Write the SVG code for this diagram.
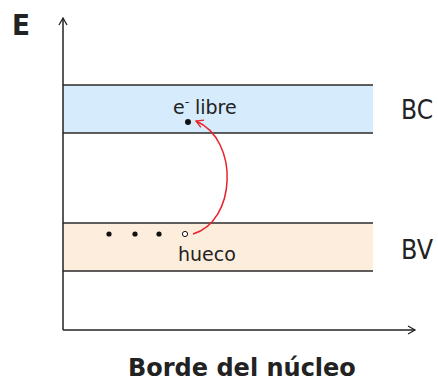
<svg xmlns="http://www.w3.org/2000/svg" width="438" height="382" viewBox="0 0 438 382">
<defs>
<style>
.band{stroke:#2a2a2a;stroke-width:1.6}
.lbl{font-family:"DejaVu Sans",sans-serif;fill:#222}
.side{font-size:27px}
.axis{stroke:#222;stroke-width:1.5;fill:none}
</style>
<marker id="ah" markerWidth="10" markerHeight="10" refX="8" refY="5" orient="auto" markerUnits="userSpaceOnUse"><path d="M1,1 L8,5 L1,9" fill="none" stroke="#222" stroke-width="1.3"/></marker>
<marker id="rh" markerWidth="10" markerHeight="10" refX="8" refY="5" orient="auto" markerUnits="userSpaceOnUse"><path d="M1,1 L8,5 L1,9" fill="none" stroke="#e8222a" stroke-width="1.3"/></marker>
</defs>
<rect width="438" height="382" fill="#fff"/>
<g id="bc">
<rect x="63" y="85" width="310" height="48" fill="#d6ebfb" stroke="none"/>
<line class="band" x1="63" y1="85" x2="373" y2="85"/>
<line class="band" x1="63" y1="133" x2="373" y2="133"/>
<text class="lbl side" x="401" y="119" textLength="32" lengthAdjust="spacingAndGlyphs">BC</text>
</g>
<g id="bv">
<rect x="63" y="223" width="310" height="48" fill="#fdeddd" stroke="none"/>
<line class="band" x1="63" y1="223" x2="373" y2="223"/>
<line class="band" x1="63" y1="271" x2="373" y2="271"/>
<text class="lbl side" x="401" y="259" textLength="32" lengthAdjust="spacingAndGlyphs">BV</text>
</g>
<g id="axes">
<line class="axis" x1="63" y1="330" x2="63" y2="18" marker-end="url(#ah)"/>
<line class="axis" x1="63" y1="330" x2="415" y2="330" marker-end="url(#ah)"/>
<text class="lbl" x="12" y="35" font-size="28" font-weight="bold" textLength="18" lengthAdjust="spacingAndGlyphs">E</text>
<text class="lbl" x="128" y="376" font-size="24" font-weight="bold">Borde del núcleo</text>
</g>
<g id="electron">
<text class="lbl" x="173" y="114" font-size="19">e<tspan dy="-8" font-size="13">-</tspan><tspan x="195" dy="8">libre</tspan></text>
<circle cx="188" cy="122" r="3" fill="#111"/>
</g>
<g id="hole">
<circle cx="109" cy="234" r="2.6" fill="#111"/>
<circle cx="135" cy="234" r="2.6" fill="#111"/>
<circle cx="159" cy="234" r="2.6" fill="#111"/>
<circle cx="185" cy="234" r="2.6" fill="#fff" stroke="#111" stroke-width="1"/>
<text class="lbl" x="178" y="261" font-size="19">hueco</text>
</g>
<g id="connectors">
<path d="M193,234 C236,222 240,140 196,121" fill="none" stroke="#e8222a" stroke-width="1.5" marker-end="url(#rh)"/>
</g>
</svg>
